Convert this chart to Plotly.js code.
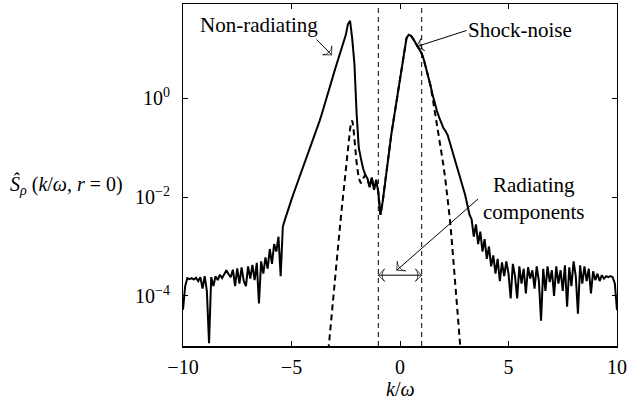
<!DOCTYPE html>
<html>
<head>
<meta charset="utf-8">
<script src="https://cdn.plot.ly/plotly-3.0.1.min.js"></script>
<style>html,body{margin:0;padding:0;background:#fff;}</style>
</head>
<body>
<div id="chart" style="width:627px;height:402px;"></div>
<script>
// k/omega sample positions for the solid (full) spectrum
var K = [
-10.0,-9.9,-9.8,-9.7,-9.6,-9.5,-9.4,-9.3,-9.2,-9.1,
-9.0,-8.9,-8.8,-8.7,-8.6,-8.5,-8.4,-8.3,-8.2,-8.1,
-8.0,-7.9,-7.8,-7.7,-7.6,-7.5,-7.4,-7.3,-7.2,-7.1,
-7.0,-6.9,-6.8,-6.7,-6.6,-6.5,-6.4,-6.3,-6.2,-6.1,
-6.0,-5.9,-5.8,-5.7,-5.6,-5.5,-5.4,-5.3,-5.2,-5.1,
-5.0,-4.9,-4.8,-4.7,-4.6,-4.5,-4.4,-4.3,-4.2,-4.1,
-4.0,-3.9,-3.8,-3.7,-3.6,-3.5,-3.4,-3.3,-3.2,-3.1,
-3.0,-2.9,-2.8,-2.7,-2.6,-2.5,-2.4,-2.3,-2.2,-2.1,
-2.0,-1.9,-1.8,-1.7,-1.6,-1.5,-1.4,-1.3,-1.2,-1.1,
-1.0,-0.9,-0.8,-0.7,-0.6,-0.5,-0.4,-0.3,-0.2,-0.1,
0.0,0.1,0.2,0.3,0.4,0.5,0.6,0.7,0.8,0.9,
1.0,1.1,1.2,1.3,1.4,1.5,1.6,1.7,1.8,1.9,
2.0,2.1,2.2,2.3,2.4,2.5,2.6,2.7,2.8,2.9,
3.0,3.1,3.2,3.3,3.4,3.5,3.6,3.7,3.8,3.9,
4.0,4.1,4.2,4.3,4.4,4.5,4.6,4.7,4.8,4.9,
5.0,5.1,5.2,5.3,5.4,5.5,5.6,5.7,5.8,5.9,
6.0,6.1,6.2,6.3,6.4,6.5,6.6,6.7,6.8,6.9,
7.0,7.1,7.2,7.3,7.4,7.5,7.6,7.7,7.8,7.9,
8.0,8.1,8.2,8.3,8.4,8.5,8.6,8.7,8.8,8.9,
9.0,9.1,9.2,9.3,9.4,9.5,9.6,9.7,9.8,9.9,
10.0];
// full spectrum S_rho(k/omega, r=0)
var S_FULL = [
5.25e-5,1.58e-4,2.29e-4,2.19e-4,2.29e-4,2.14e-4,2.34e-4,2.00e-4,2.40e-4,1.41e-4,
2.51e-4,1.26e-4,1.10e-5,2.40e-4,1.58e-4,2.51e-4,2.09e-4,2.69e-4,2.29e-4,2.82e-4,
3.31e-4,2.75e-4,2.40e-4,3.39e-4,1.58e-4,3.63e-4,1.78e-4,3.80e-4,2.00e-4,1.58e-4,
3.98e-4,2.24e-4,4.27e-4,2.09e-4,4.68e-4,7.08e-5,5.01e-4,2.82e-4,6.03e-4,3.55e-4,
8.91e-4,4.47e-4,1.12e-3,7.94e-4,1.58e-3,2.51e-4,2.51e-3,3.55e-3,5.01e-3,6.31e-3,
8.91e-3,1.20e-2,1.58e-2,2.09e-2,2.82e-2,3.80e-2,5.01e-2,6.61e-2,8.71e-2,0.112,
0.145,0.195,0.263,0.355,0.490,0.676,0.955,1.35,1.91,2.69,
3.80,5.37,7.59,10.5,14.8,19.1,31.6,37.2,15.8,5.01,
0.501,0.100,6.03e-2,3.80e-2,2.82e-2,2.40e-2,1.58e-2,2.51e-2,1.41e-2,2.24e-2,
1.26e-2,4.37e-3,7.94e-3,1.78e-2,3.98e-2,9.55e-2,0.186,0.355,0.676,1.26,
2.34,5.25,10.5,16.6,19.5,18.6,16.2,13.5,11.2,9.55,
8.13,6.03,4.17,2.82,1.86,1.20,0.794,0.562,0.417,0.316,
0.251,0.219,0.178,0.126,8.91e-2,6.31e-2,4.47e-2,3.16e-2,2.40e-2,1.58e-2,
1.12e-2,7.08e-3,4.47e-3,3.55e-3,1.58e-3,2.82e-3,1.12e-3,2.00e-3,7.94e-4,1.41e-3,
5.62e-4,1.00e-3,3.98e-4,6.61e-4,2.82e-4,5.62e-4,2.00e-4,4.79e-4,2.51e-4,5.01e-4,
2.82e-4,8.91e-5,4.47e-4,2.51e-4,8.91e-5,3.98e-4,1.78e-4,3.55e-4,1.12e-4,3.80e-4,
2.24e-4,3.31e-4,1.41e-4,3.98e-4,2.00e-4,3.16e-5,3.55e-4,1.26e-4,3.98e-4,1.91e-4,
3.31e-4,1.00e-4,3.98e-4,1.78e-4,3.31e-4,1.26e-4,4.17e-4,6.03e-5,3.80e-4,1.58e-4,
5.01e-4,2.51e-4,4.37e-5,4.17e-4,1.78e-4,3.98e-4,2.00e-4,3.55e-4,1.12e-4,3.16e-4,
2.09e-4,2.82e-4,2.00e-4,2.63e-4,2.24e-4,2.51e-4,2.40e-4,2.51e-4,2.40e-4,1.78e-4,
5.13e-5];
// k/omega sample positions for the dashed (filtered) spectrum
var K_DASH = [
-3.3,-3.2,-3.1,-3.0,-2.9,-2.8,-2.7,-2.6,-2.5,-2.4,-2.3,-2.25,-2.2,-2.15,-2.1,-2.0,-1.9,-1.8,-1.7,-1.6,
-1.5,-1.4,-1.3,-1.2,-1.1,-1.0,-0.9,-0.8,-0.7,-0.6,-0.5,-0.4,-0.3,-0.2,-0.1,
0.0,0.1,0.2,0.3,0.4,0.5,0.6,0.7,0.8,0.9,1.0,1.1,1.2,1.3,1.4,
1.5,1.6,1.7,1.8,1.9,2.0,2.1,2.2,2.3,2.4,2.5,2.6,2.7,2.8];
var S_DASH = [
7.94e-6,2.51e-5,7.94e-5,2.24e-4,6.31e-4,1.78e-3,5.01e-3,1.41e-2,3.98e-2,0.105,0.240,0.331,0.355,0.263,0.141,5.01e-2,2.40e-2,1.91e-2,2.40e-2,2.82e-2,
2.40e-2,1.58e-2,2.51e-2,1.41e-2,2.24e-2,1.26e-2,4.37e-3,7.94e-3,1.78e-2,3.98e-2,9.55e-2,0.186,0.355,0.676,1.26,
2.34,5.25,10.5,16.6,19.5,18.6,16.2,13.5,11.2,9.55,8.13,6.03,4.17,2.82,1.86,
1.05,0.562,0.316,0.178,8.91e-2,4.47e-2,2.09e-2,8.91e-3,3.55e-3,1.12e-3,3.16e-4,8.91e-5,2.51e-5,7.08e-6];
// radiating band limits
var BAND = [-1, 1];
var XTICKS = [-10, -5, 0, 5, 10];
var XTICKTEXT = ['\u221210', '\u22125', '0', '5', '10'];
var YTICKS = [1e-4, 1e-2, 1];
var YTICKTEXT = ['10<sup>\u22124</sup>', '10<sup>\u22122</sup>', '10<sup>0</sup>'];
// callout arrows: [tail, head] in (k/omega, S) units
var ARROW_NONRAD_X = [-3.84, -3.15], ARROW_NONRAD_Y = [15.5, 7.59];
var ARROW_SHOCK_X = [3.07, 0.77],    ARROW_SHOCK_Y = [23.7, 11.2];
var ARROW_RAD_X = [3.59, -0.15],     ARROW_RAD_Y = [9.12e-3, 3.31e-4];
var BAND_ARROW_Y = 2.63e-4;

var FONT = 'Liberation Serif';

function arrowTrace(xs, ys) {
  return {x: xs, y: ys, type: 'scatter', mode: 'lines+markers', hoverinfo: 'skip',
          line: {color: 'black', width: 1},
          marker: {symbol: 'arrow-wide-open', size: [0, 9], angleref: 'previous',
                   color: 'black', line: {color: 'black', width: 1}}};
}

var traces = [
  {x: K, y: S_FULL, type: 'scatter', mode: 'lines', line: {color: 'black', width: 2}, hoverinfo: 'skip'},
  {x: K_DASH, y: S_DASH, type: 'scatter', mode: 'lines', line: {color: 'black', width: 2, dash: '6px,4px'}, hoverinfo: 'skip'},
  arrowTrace(ARROW_NONRAD_X, ARROW_NONRAD_Y),
  arrowTrace(ARROW_SHOCK_X, ARROW_SHOCK_Y),
  arrowTrace(ARROW_RAD_X, ARROW_RAD_Y),
  arrowTrace([0, BAND[0]], [BAND_ARROW_Y, BAND_ARROW_Y]),
  arrowTrace([0, BAND[1]], [BAND_ARROW_Y, BAND_ARROW_Y])
];

var shapes = BAND.map(function (b) {
  return {type: 'line', xref: 'x', yref: 'paper', x0: b, x1: b, y0: 0, y1: 1,
          line: {color: 'black', width: 1, dash: '5px,4px'}};
});

var annotations = [
  {xref: 'x', yref: 'y', x: -6.5, y: 1.49, text: 'Non-radiating', showarrow: false,
   font: {family: FONT, size: 21, color: 'black'}},
  {xref: 'x', yref: 'y', x: 5.53, y: 1.39, text: 'Shock-noise', showarrow: false,
   font: {family: FONT, size: 21, color: 'black'}},
  {xref: 'x', yref: 'y', x: 6.13, y: -2.02, text: 'Radiating<br>components', showarrow: false,
   font: {family: FONT, size: 21, color: 'black'}},
  {xref: 'paper', yref: 'paper', x: -0.404, y: 0.471, xanchor: 'left', yanchor: 'middle',
   text: '<i>\u015C</i><sub><i>\u03C1</i></sub> (<i>k</i>/<i>\u03C9</i>, <i>r</i> = 0)', showarrow: false,
   font: {family: FONT, size: 20, color: 'black'}},
  {xref: 'paper', yref: 'paper', x: 0.5, y: -0.127, xanchor: 'center', yanchor: 'middle',
   text: '<i>k</i>/<i>\u03C9</i>', showarrow: false,
   font: {family: FONT, size: 20, color: 'black'}}
];

var layout = {
  width: 627, height: 402,
  margin: {l: 183, r: 10, t: 4, b: 56, pad: 0},
  paper_bgcolor: 'white', plot_bgcolor: 'white',
  showlegend: false,
  font: {family: FONT, size: 20, color: 'black'},
  xaxis: {range: [-10, 10], tickmode: 'array', tickvals: XTICKS, ticktext: XTICKTEXT,
          ticks: 'inside', ticklen: 5, tickcolor: 'black', tickwidth: 1,
          showline: true, linecolor: 'black', linewidth: 1.5, mirror: 'ticks',
          showgrid: false, zeroline: false, ticklabelstandoff: 2,
          tickfont: {family: FONT, size: 20, color: 'black'}},
  yaxis: {type: 'log', range: [-5.014, 1.911], tickmode: 'array', tickvals: YTICKS, ticktext: YTICKTEXT,
          ticks: 'inside', ticklen: 5, tickcolor: 'black', tickwidth: 1,
          showline: true, linecolor: 'black', linewidth: 1, mirror: 'ticks',
          showgrid: false, zeroline: false, ticklabelstandoff: 8,
          tickfont: {family: FONT, size: 20, color: 'black'}},
  shapes: shapes,
  annotations: annotations
};

Plotly.newPlot('chart', traces, layout, {displayModeBar: false, staticPlot: true});
</script>
</body>
</html>
